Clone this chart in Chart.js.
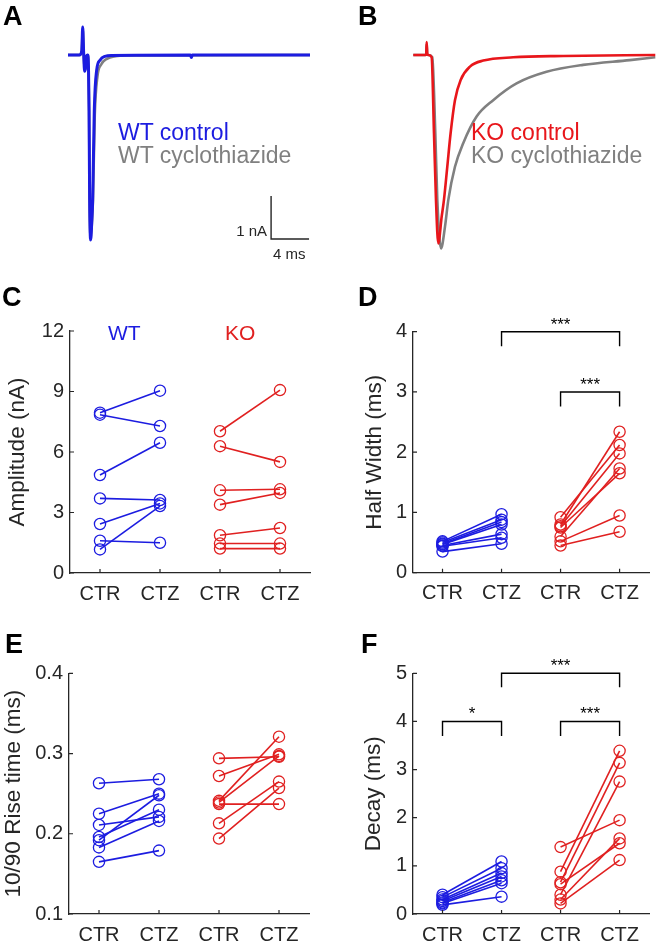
<!DOCTYPE html>
<html>
<head>
<meta charset="utf-8">
<title>CTZ EPSC kinetics</title>
<script src="https://cdn.jsdelivr.net/npm/chart.js@4.4.1/dist/chart.umd.min.js"></script>
<style>
    html, body { margin: 0; padding: 0; background: #fff; }
    body { width: 656px; height: 946px; position: relative; overflow: hidden;
           font-family: 'Liberation Sans', Arial, Helvetica, sans-serif; }
    .panel { position: absolute; }
    .panel canvas { display: block; }
    .txt { position: absolute; white-space: nowrap; line-height: 1; }
    .letter { font-weight: bold; font-size: 27px; color: #000; }
</style>
</head>
<body>

<div class="panel" style="left:0;top:0"><canvas id="chartA" width="328" height="280"></canvas></div>
<div class="panel" style="left:330px;top:0"><canvas id="chartB" width="326" height="280"></canvas></div>
<div class="panel" style="left:0;top:300px"><canvas id="chartC" width="330" height="312"></canvas></div>
<div class="panel" style="left:330px;top:300px"><canvas id="chartD" width="326" height="312"></canvas></div>
<div class="panel" style="left:0;top:640px"><canvas id="chartE" width="330" height="306"></canvas></div>
<div class="panel" style="left:330px;top:640px"><canvas id="chartF" width="326" height="306"></canvas></div>

<!-- panel letters -->
<div class="txt letter" style="left:3px;top:3px">A</div>
<div class="txt letter" style="left:358px;top:3px">B</div>
<div class="txt letter" style="left:2px;top:284px">C</div>
<div class="txt letter" style="left:358px;top:284px">D</div>
<div class="txt letter" style="left:5px;top:631px">E</div>
<div class="txt letter" style="left:361px;top:631px">F</div>

<!-- legends of the traces -->
<div class="txt" style="left:118px;top:121px;font-size:23px;color:#1c1ce0">WT control</div>
<div class="txt" style="left:118px;top:144px;font-size:23px;color:#808080">WT cyclothiazide</div>
<div class="txt" style="left:471px;top:121px;font-size:23px;color:#e8161b">KO control</div>
<div class="txt" style="left:471px;top:144px;font-size:23px;color:#808080">KO cyclothiazide</div>

<!-- scale bar labels -->
<div class="txt" style="left:200px;width:67px;text-align:right;top:223px;font-size:15px;color:#262626">1 nA</div>
<div class="txt" style="left:273px;top:246px;font-size:15px;color:#262626">4 ms</div>

<!-- genotype labels in C -->
<div class="txt" style="left:108px;top:322px;font-size:21px;color:#1c1ce0">WT</div>
<div class="txt" style="left:225px;top:322px;font-size:21px;color:#e02020">KO</div>

<script>
// ============================
// DATA
// ============================

// example traces (time in ms, current in nA)
const wtControlT = [0, 1.2, 1.45, 1.55, 1.65, 1.75, 1.85, 1.95, 2.08, 2.16, 2.22, 2.28, 2.39, 2.5, 2.6, 2.77, 3.02, 3.37, 3.9, 4.6, 12.9, 13.0, 13.1, 25.5];
const wtControlI = [0, 0, 0.1, 0.65, 0.05, -0.38, -0.3, -0.02, 0, -0.3, -1.3, -3.37, -4.3, -3.9, -3.37, -1.28, -0.35, -0.12, -0.03, -0.01, 0, -0.06, 0, 0];
const wtCtzT = [0, 1.2, 1.45, 1.55, 1.65, 1.75, 1.85, 1.95, 2.08, 2.16, 2.22, 2.28, 2.4, 2.52, 2.63, 2.82, 3.1, 3.5, 4.1, 5.0, 6.0, 25.5];
const wtCtzI = [0, 0, 0.1, 0.6, 0.05, -0.35, -0.3, -0.02, 0, -0.3, -1.3, -3.37, -4.25, -3.9, -3.37, -1.4, -0.5, -0.22, -0.09, -0.03, -0.01, 0];

const koControlT = [0, 1.25, 1.36, 1.41, 1.47, 1.6, 1.93, 2.18, 2.39, 2.63, 2.99, 3.23, 3.58, 3.93, 4.39, 4.99, 5.97, 7.37, 10.53, 15.79, 25.5];
const koControlI = [0, 0, 0.02, 0.3, 0.02, 0, -0.05, -1.82, -3.37, -4.38, -3.76, -3.37, -2.6, -1.82, -1.05, -0.58, -0.27, -0.13, -0.054, -0.023, 0];
const koCtzT = [0, 1.25, 1.36, 1.41, 1.47, 1.6, 2.0, 2.32, 2.53, 2.92, 3.34, 3.69, 4.39, 5.26, 6.67, 8.42, 10.88, 14.04, 17.89, 22.81, 25.5];
const koCtzI = [0, 0, 0.02, 0.25, 0.02, 0, -0.05, -1.82, -3.37, -4.5, -3.99, -3.37, -2.6, -2.05, -1.43, -1.05, -0.66, -0.39, -0.23, -0.12, -0.054];

// scale bar: 4 ms x 1 nA, corner at (21.4 ms, -4.28 nA)
const scaleBar = { t: 21.4, i: -4.28, dt: 4, di: 1 };

// x categories for the paired plots
const groups = ['CTR', 'CTZ', 'CTR', 'CTZ'];

// C: amplitude (nA)
const wtAmpCtr = [7.95, 7.85, 4.86, 3.70, 2.43, 1.60, 1.17];
const wtAmpCtz = [9.04, 7.29, 6.46, 3.62, 3.45, 1.50, 3.32];
const koAmpCtr = [7.03, 6.29, 4.10, 3.39, 1.87, 1.46, 1.21];
const koAmpCtz = [9.07, 5.51, 4.15, 3.97, 2.23, 1.46, 1.21];
const ampTicks = [0, 3, 6, 9, 12];

// D: half width (ms)
const wtHwCtr = [0.52, 0.50, 0.48, 0.47, 0.45, 0.44, 0.35];
const wtHwCtz = [0.97, 0.88, 0.84, 0.80, 0.64, 0.58, 0.48];
const koHwCtr = [0.92, 0.80, 0.77, 0.75, 0.60, 0.52, 0.45];
const koHwCtz = [2.12, 2.34, 1.98, 1.65, 1.73, 0.95, 0.68];
const hwTicks = [0, 1, 2, 3, 4];

// E: 10/90 rise time (ms)
const wtRiseCtr = [0.263, 0.225, 0.211, 0.196, 0.192, 0.183, 0.165];
const wtRiseCtz = [0.268, 0.250, 0.221, 0.230, 0.248, 0.216, 0.179];
const koRiseCtr = [0.294, 0.272, 0.241, 0.239, 0.237, 0.213, 0.194];
const koRiseCtz = [0.296, 0.299, 0.321, 0.297, 0.237, 0.265, 0.257];
const riseTicks = [0.1, 0.2, 0.3, 0.4];
const riseTickLabels = ['0.1', '0.2', '0.3', '0.4'];

// F: decay (ms)
const wtDecayCtr = [0.40, 0.35, 0.30, 0.27, 0.24, 0.22, 0.19];
const wtDecayCtz = [1.09, 0.95, 0.85, 0.78, 0.70, 0.64, 0.36];
const koDecayCtr = [0.88, 0.66, 0.40, 1.39, 0.30, 0.62, 0.22];
const koDecayCtz = [3.39, 3.14, 2.75, 1.95, 1.57, 1.47, 1.12];
const decayTicks = [0, 1, 2, 3, 4, 5];

// significance brackets (category index, height and leg drop in data units)
const hwBrackets = [
    { from: 1, to: 3, y: 4.0, leg: 0.24, text: '***' },
    { from: 2, to: 3, y: 3.0, leg: 0.24, text: '***' }
];
const decayBrackets = [
    { from: 1, to: 3, y: 5.0, leg: 0.29, text: '***' },
    { from: 0, to: 1, y: 4.0, leg: 0.30, text: '*' },
    { from: 2, to: 3, y: 4.0, leg: 0.30, text: '***' }
];

// ============================
// STYLE
// ============================
const FONT = "'Liberation Sans', Arial, Helvetica, sans-serif";
const BLUE = '#1c1ce0';
const RED = '#e8161b';
const GRAY = '#808080';
const AXIS = '#262626';

Chart.defaults.font.family = FONT;
Chart.defaults.color = AXIS;

// MATLAB-like inward tick marks
const inwardTicks = {
    id: 'inwardTicks',
    afterDraw: function(chart) {
        const ctx = chart.ctx;
        const a = chart.chartArea;
        const x = chart.scales.x, y = chart.scales.y;
        if (!x.options.display) return;
        ctx.save();
        ctx.strokeStyle = AXIS;
        ctx.lineWidth = 1.2;
        ctx.beginPath();
        x.ticks.forEach(function(t, i) {
            const px = x.getPixelForTick(i);
            ctx.moveTo(px, a.bottom);
            ctx.lineTo(px, a.bottom - 4);
        });
        y.ticks.forEach(function(t, i) {
            const py = y.getPixelForTick(i);
            ctx.moveTo(a.left, py);
            ctx.lineTo(a.left + 4, py);
        });
        ctx.stroke();
        ctx.restore();
    }
};

function bracketPlugin(list) {
    return {
        id: 'brackets',
        afterDraw: function(chart) {
            const ctx = chart.ctx;
            const x = chart.scales.x, y = chart.scales.y;
            ctx.save();
            ctx.strokeStyle = '#000';
            ctx.fillStyle = '#000';
            ctx.lineWidth = 1.4;
            ctx.font = '17px ' + FONT;
            ctx.textAlign = 'center';
            ctx.textBaseline = 'alphabetic';
            list.forEach(function(b) {
                const x1 = x.getPixelForValue(b.from);
                const x2 = x.getPixelForValue(b.to);
                const yt = y.getPixelForValue(b.y);
                const yl = y.getPixelForValue(b.y - b.leg);
                ctx.beginPath();
                ctx.moveTo(x1, yl);
                ctx.lineTo(x1, yt);
                ctx.lineTo(x2, yt);
                ctx.lineTo(x2, yl);
                ctx.stroke();
                ctx.fillText(b.text, (x1 + x2) / 2, yt - 2);
            });
            ctx.restore();
        }
    };
}

function toXY(ts, is) {
    return ts.map(function(t, k) { return { x: t, y: is[k] }; });
}

function traceSet(ts, is, color, width) {
    return {
        data: toXY(ts, is),
        borderColor: color,
        borderWidth: width,
        pointRadius: 0,
        cubicInterpolationMode: 'monotone',
        clip: false
    };
}

// ============================
// A & B: example traces
// ============================
function traceChart(id, sets, padding) {
    return new Chart(document.getElementById(id), {
        type: 'line',
        data: { datasets: sets },
        options: {
            responsive: false,
            animation: false,
            events: [],
            layout: { padding: padding },
            plugins: { legend: { display: false }, tooltip: { enabled: false } },
            scales: {
                x: { type: 'linear', min: 0, max: 25.5, display: false },
                y: { type: 'linear', min: -4.5, max: 1, display: false }
            }
        }
    });
}

const barPts = [
    { x: scaleBar.t, y: scaleBar.i + scaleBar.di },
    { x: scaleBar.t, y: scaleBar.i },
    { x: scaleBar.t + scaleBar.dt, y: scaleBar.i }
];

traceChart('chartA', [
    traceSet(wtControlT, wtControlI, BLUE, 3),
    traceSet(wtCtzT, wtCtzI, GRAY, 2.6),
    { data: barPts, borderColor: AXIS, borderWidth: 1.4, pointRadius: 0, tension: 0, clip: false }
], { left: 68, right: 18, top: 12, bottom: 31.5 });

traceChart('chartB', [
    traceSet(koControlT, koControlI, RED, 2.6),
    traceSet(koCtzT, koCtzI, GRAY, 2.6)
], { left: 83.3, right: 0.7, top: 12, bottom: 31.5 });

// ============================
// C - F: paired cell plots
// ============================
function pairedSets(ctr, ctz, shift, color) {
    return ctr.map(function(v, k) {
        const d = shift ? [null, null, v, ctz[k]] : [v, ctz[k]];
        return {
            data: d,
            borderColor: color,
            borderWidth: 1.6,
            pointRadius: 5.6,
            pointBorderWidth: 1.3,
            pointBorderColor: color,
            pointBackgroundColor: 'rgba(0,0,0,0)',
            tension: 0,
            clip: false
        };
    });
}

function pairedChart(cfg) {
    const plugins = [inwardTicks];
    if (cfg.brackets) plugins.push(bracketPlugin(cfg.brackets));
    return new Chart(document.getElementById(cfg.id), {
        type: 'line',
        data: {
            labels: groups,
            datasets: pairedSets(cfg.wtCtr, cfg.wtCtz, false, BLUE)
                .concat(pairedSets(cfg.koCtr, cfg.koCtz, true, '#e02020'))
        },
        plugins: plugins,
        options: {
            responsive: false,
            animation: false,
            events: [],
            layout: { padding: { left: 0, top: cfg.padTop, right: cfg.padRight, bottom: cfg.padBottom } },
            plugins: { legend: { display: false }, tooltip: { enabled: false } },
            scales: {
                x: {
                    type: 'category',
                    offset: true,
                    grid: { display: false, drawTicks: false },
                    border: { display: true, color: AXIS, width: 1.3 },
                    ticks: { autoSkip: false, maxRotation: 0, padding: 9, color: AXIS, font: { size: 20 } },
                    afterFit: function(s) { s.height = cfg.xHeight; }
                },
                y: {
                    type: 'linear',
                    min: cfg.ticks[0],
                    max: cfg.ticks[cfg.ticks.length - 1],
                    grid: { display: false, drawTicks: false },
                    border: { display: true, color: AXIS, width: 1.3 },
                    ticks: {
                        padding: 6,
                        color: AXIS,
                        font: { size: 20 },
                        callback: function(v, i) { return cfg.tickLabels ? cfg.tickLabels[i] : String(v); }
                    },
                    afterBuildTicks: function(s) { s.ticks = cfg.ticks.map(function(v) { return { value: v }; }); },
                    title: {
                        display: true,
                        text: cfg.title,
                        color: AXIS,
                        font: { size: 22.5 },
                        padding: { top: cfg.titlePad, bottom: 0 }
                    },
                    afterFit: function(s) { s.width = cfg.yWidth; }
                }
            }
        }
    });
}

pairedChart({
    id: 'chartC', title: 'Amplitude (nA)', ticks: ampTicks,
    wtCtr: wtAmpCtr, wtCtz: wtAmpCtz, koCtr: koAmpCtr, koCtz: koAmpCtz,
    yWidth: 70, xHeight: 36, padTop: 31, padRight: 20, padBottom: 3, titlePad: 4.5
});

pairedChart({
    id: 'chartD', title: 'Half Width (ms)', ticks: hwTicks, brackets: hwBrackets,
    wtCtr: wtHwCtr, wtCtz: wtHwCtz, koCtr: koHwCtr, koCtz: koHwCtz,
    yWidth: 83, xHeight: 36, padTop: 31.7, padRight: 3, padBottom: 3.3, titlePad: 31.5
});

pairedChart({
    id: 'chartE', title: '10/90 Rise time (ms)', ticks: riseTicks, tickLabels: riseTickLabels,
    wtCtr: wtRiseCtr, wtCtz: wtRiseCtz, koCtr: koRiseCtr, koCtz: koRiseCtz,
    yWidth: 69, xHeight: 32, padTop: 33.3, padRight: 21, padBottom: 0, titlePad: 0.5
});

pairedChart({
    id: 'chartF', title: 'Decay (ms)', ticks: decayTicks, brackets: decayBrackets,
    wtCtr: wtDecayCtr, wtCtz: wtDecayCtz, koCtr: koDecayCtr, koCtz: koDecayCtz,
    yWidth: 83, xHeight: 32, padTop: 33.3, padRight: 3, padBottom: 0, titlePad: 30.5
});
</script>
</body>
</html>
